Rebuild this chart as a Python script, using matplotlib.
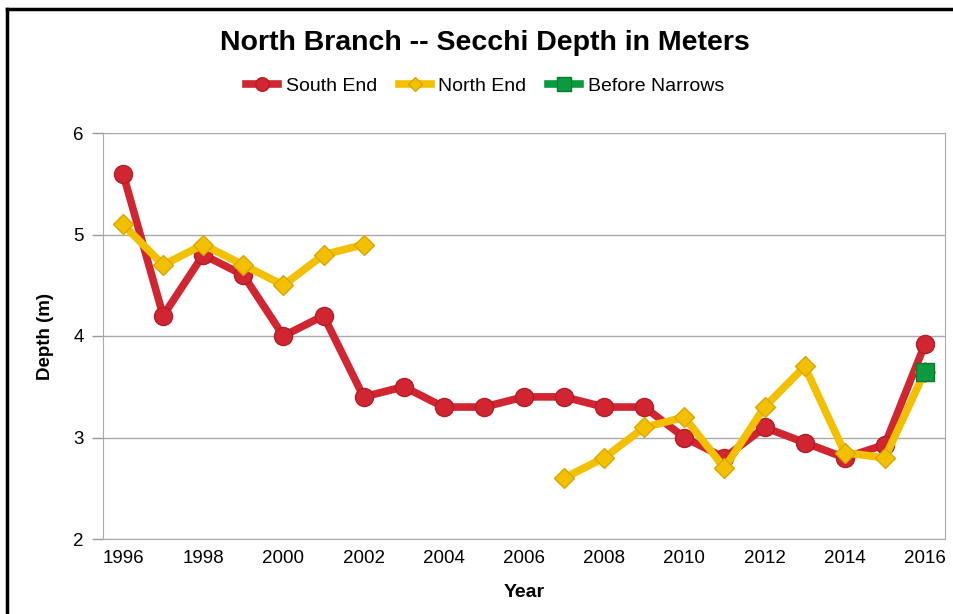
import numpy as np
import matplotlib as mpl
import matplotlib.pyplot as plt
from matplotlib.lines import Line2D

# Data
years = np.arange(1996, 2017)
south_end = [5.6, 4.2, 4.8, 4.6, 4.0, 4.2, 3.4, 3.5, 3.3, 3.3, 3.4,
             3.4, 3.3, 3.3, 3.0, 2.8, 3.1, 2.95, 2.8, 2.93, 3.92]
north_end = [5.1, 4.7, 4.9, 4.7, 4.5, 4.8, 4.9, np.nan, np.nan, np.nan, np.nan,
             2.6, 2.8, 3.1, 3.2, 2.7, 3.3, 3.7, 2.85, 2.8, 3.65]
before_narrows = [np.nan] * 20 + [3.65]

mpl.rcParams['font.family'] = 'Liberation Sans'
mpl.rcParams['font.size'] = 14

red = '#D12631'
yellow = '#F3C000'
green = '#0B9B3E'

fig = plt.figure(figsize=(9.54, 6.14), dpi=100)
ax = fig.add_axes([103/954, 1-539/614, (945-103)/954, (539-133)/614])

ax.plot(years, south_end, color=red, lw=5.5, marker='o', ms=13,
        mfc=red, mec='#B01E28', mew=1, label='South End', zorder=3)
ax.plot(years, north_end, color=yellow, lw=5.5, marker='D', ms=10,
        mfc=yellow, mec='#D9A800', mew=1, label='North End', zorder=4)
ax.plot(years, before_narrows, color=green, lw=5.5, marker='s', ms=13,
        mfc=green, mec='#087A30', mew=1, label='Before Narrows', zorder=5)

ax.set_xlim(1995.5, 2016.5)
ax.set_ylim(2, 6)
ax.set_xticks(years[::2])
ax.set_yticks([2, 3, 4, 5, 6])
ax.tick_params(axis='x', length=0, pad=8, labelsize=13.5)
ax.tick_params(axis='y', length=8, color='#999999', width=1, pad=6, labelsize=13.5)
ax.grid(axis='y', color='#AAAAAA', lw=1)
for s in ax.spines.values():
    s.set_color('#AAAAAA')

ax.set_xlabel('Year', fontweight='bold', fontsize=14, labelpad=12)
ax.set_ylabel('Depth (m)', fontweight='bold', fontsize=13.5, labelpad=14)

fig.suptitle('North Branch -- Secchi Depth in Meters', fontweight='bold',
             fontsize=20.5, x=485/954, y=1-43/614, va='center')
leg = fig.legend(loc='center', bbox_to_anchor=(485/954, 1-86/614), ncol=3,
                 frameon=False, fontsize=14, handlelength=1.65, columnspacing=1.1,
                 handletextpad=0.4, markerscale=0.75)

# black frame on top and left edges
fig.add_artist(Line2D([7/954, 7/954], [0, 1-9/614], color='black', lw=2.5,
                      transform=fig.transFigure))
fig.add_artist(Line2D([7/954, 1], [1-9/614, 1-9/614], color='black', lw=2.5,
                      transform=fig.transFigure))

fig.savefig('out.png', dpi=100)
